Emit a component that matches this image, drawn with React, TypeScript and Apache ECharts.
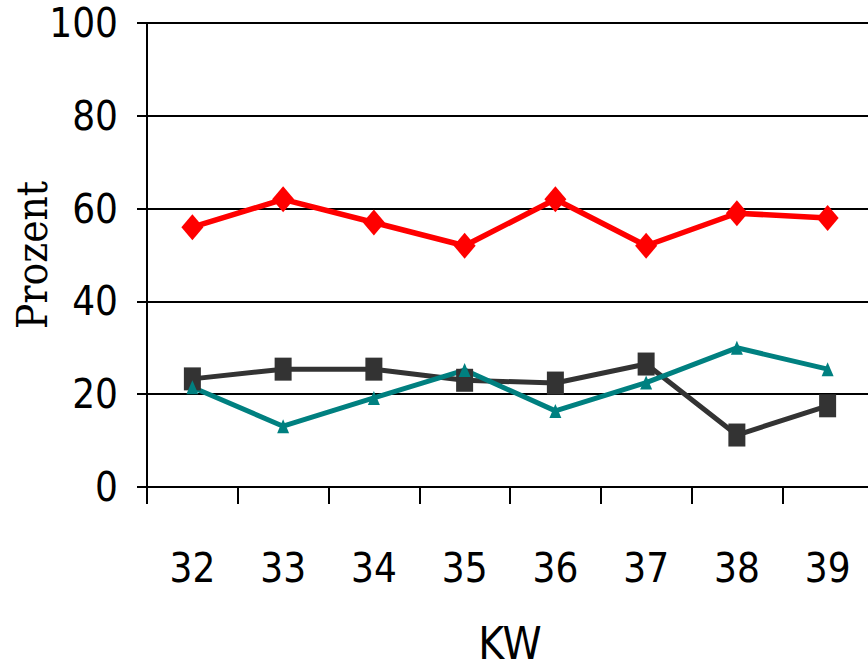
import React, { useEffect, useRef } from "react";
import * as echarts from "echarts";

const categories = ["32", "33", "34", "35", "36", "37", "38", "39"];
const redValues = [56, 62, 57, 52, 62, 52, 59, 58];
const darkValues = [23.3, 25.4, 25.4, 23, 22.4, 26.5, 11.2, 17.5];
const tealValues = [21.5, 13.1, 19.2, 25.2, 16.4, 22.5, 30, 25.4];
const yTicks = [0, 20, 40, 60, 80, 100];

const numFont = "'Liberation Sans Narrow', 'DejaVu Sans', sans-serif";

export default function App() {
  const ref = useRef<HTMLDivElement>(null);
  useEffect(() => {
    if (!ref.current) return;
    const chart = echarts.init(ref.current, undefined, { renderer: "svg" });
    chart.setOption({
      animation: false,
      backgroundColor: "#ffffff",
      grid: { left: 147, right: -5, top: 23, bottom: 180, containLabel: false, outerBoundsMode: "none" },
      xAxis: {
        type: "category",
        data: categories,
        boundaryGap: true,
        name: "KW",
        nameLocation: "middle",
        nameGap: 134,
        nameMoveOverlap: false,
        nameTextStyle: { fontFamily: numFont, fontSize: 44, color: "#000" },
        axisLine: { show: true, lineStyle: { color: "#000", width: 2 } },
        axisTick: { show: true, length: 17, lineStyle: { color: "#000", width: 2 } },
        axisLabel: { margin: 61, fontFamily: numFont, fontSize: 40, color: "#000" },
        splitLine: { show: false },
      },
      yAxis: {
        type: "value",
        min: yTicks[0],
        max: yTicks[yTicks.length - 1],
        interval: 20,
        name: "Prozent",
        nameLocation: "middle",
        nameGap: 94,
        nameMoveOverlap: false,
        nameRotate: 90,
        nameTextStyle: { fontFamily: "'DejaVu Serif', serif", fontSize: 42, color: "#000" },
        axisLine: { show: true, lineStyle: { color: "#000", width: 2 } },
        axisTick: { show: true, length: 10, lineStyle: { color: "#000", width: 2 } },
        axisLabel: { margin: 29, fontFamily: numFont, fontSize: 40, color: "#000" },
        splitLine: { show: true, lineStyle: { color: "#000", width: 2 } },
      },
      series: [
        {
          type: "line",
          data: redValues,
          symbol: "diamond",
          symbolSize: [22, 26],
          lineStyle: { color: "#ff0000", width: 5.5 },
          itemStyle: { color: "#ff0000" },
        },
        {
          type: "line",
          data: darkValues,
          symbol: "rect",
          symbolSize: [17, 23],
          lineStyle: { color: "#333333", width: 5 },
          itemStyle: { color: "#333333" },
        },
        {
          type: "line",
          data: tealValues,
          symbol: "triangle",
          symbolSize: [12, 14],
          lineStyle: { color: "#008080", width: 5 },
          itemStyle: { color: "#008080" },
        },
      ],
    });
    return () => chart.dispose();
  }, []);
  return (
    <>
      <style>{`#root svg text { font-stretch: condensed !important; }`}</style>
      <div ref={ref} style={{ width: 868, height: 667, position: "absolute", left: 0, top: 0 }} />
    </>
  );
}
